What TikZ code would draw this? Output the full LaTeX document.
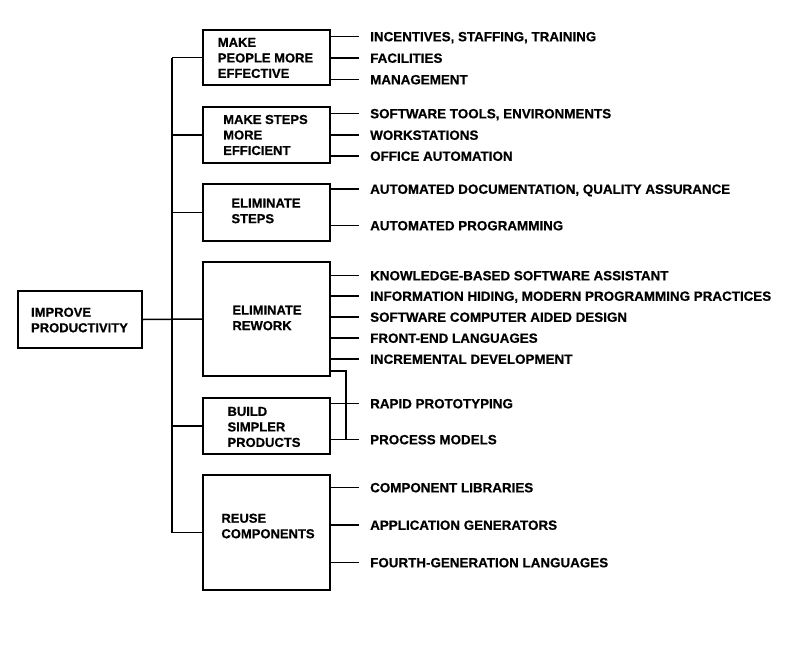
\documentclass[tikz,border=0pt]{standalone}
\usepackage{fontspec}
\setmainfont{Liberation Sans}[BoldFeatures={FakeBold=0.6}]
\begin{document}
\begin{tikzpicture}[x=1pt,y=-1pt,
  box/.style={draw, line width=2.2pt, rectangle, inner sep=0pt, minimum width=126.8pt},
  boxtext/.style={align=left, inner sep=0pt, font=\bfseries\fontsize{13}{15.5}\selectfont},
  item/.style={anchor=west, inner sep=0pt, text height=9.6pt, text depth=0pt, font=\bfseries\fontsize{13.4}{15}\selectfont},
  conn/.style={line width=1.5pt}]
\useasboundingbox[fill=white] (0,0) rectangle (785,646);

% boxes
\node[box, minimum height=54.8pt] (b1) at (266.5,57.5) {};
\node[box, minimum height=55.8pt] (b2) at (266.5,135) {};
\node[box, minimum height=56.8pt] (b3) at (266.5,212.5) {};
\node[box, minimum height=113.8pt] (b4) at (266.5,319) {};
\node[box, minimum height=55.8pt] (b5) at (266.5,426) {};
\node[box, minimum height=114.8pt] (b6) at (266.5,532.5) {};
\node[box, minimum width=123.8pt, minimum height=56.8pt] (imp) at (80,319.5) {};

% box texts
\node[boxtext] (l1) at (265.5,58) {MAKE\\PEOPLE MORE\\EFFECTIVE};
\node[boxtext] (l2) at (265.5,135) {MAKE STEPS\\MORE\\EFFICIENT};
\node[boxtext] (l3) at (266,211) {ELIMINATE\\STEPS};
\node[boxtext] (l4) at (267,318) {ELIMINATE\\REWORK};
\node[boxtext] (l5) at (264,427) {BUILD\\SIMPLER\\PRODUCTS};
\node[boxtext] (l6) at (268,526) {REUSE\\COMPONENTS};
\node[boxtext] (l0) at (79.5,320) {IMPROVE\\PRODUCTIVITY};

% items
\node[item] (i11) at (370,36.5) {INCENTIVES, STAFFING, TRAINING};
\node[item] (i12) at (370,58) {FACILITIES};
\node[item] (i13) at (370,79.5) {MANAGEMENT};
\node[item] (i21) at (370,113.5) {SOFTWARE TOOLS, ENVIRONMENTS};
\node[item] (i22) at (370,135) {WORKSTATIONS};
\node[item] (i23) at (370,156) {OFFICE AUTOMATION};
\node[item] (i31) at (370,189) {AUTOMATED DOCUMENTATION, QUALITY ASSURANCE};
\node[item] (i32) at (370,225.5) {AUTOMATED PROGRAMMING};
\node[item] (i41) at (370,275.5) {KNOWLEDGE-BASED SOFTWARE ASSISTANT};
\node[item] (i42) at (370,296) {INFORMATION HIDING, MODERN PROGRAMMING PRACTICES};
\node[item] (i43) at (370,317) {SOFTWARE COMPUTER AIDED DESIGN};
\node[item] (i44) at (370,338) {FRONT-END LANGUAGES};
\node[item] (i45) at (370,359) {INCREMENTAL DEVELOPMENT};
\node[item] (i51) at (370,403.5) {RAPID PROTOTYPING};
\node[item] (i52) at (370,439.5) {PROCESS MODELS};
\node[item] (i61) at (370,487.5) {COMPONENT LIBRARIES};
\node[item] (i62) at (370,525) {APPLICATION GENERATORS};
\node[item] (i63) at (370,562.5) {FOURTH-GENERATION LANGUAGES};

% stubs
\foreach \b/\i in {b1/i11,b1/i12,b1/i13,b2/i21,b2/i22,b2/i23,b3/i31,b3/i32,
                   b4/i41,b4/i42,b4/i43,b4/i44,b4/i45,b5/i51,b5/i52,b6/i61,b6/i62,b6/i63}
  \draw[conn] (\b.east |- \i.west) -- ([xshift=-11pt]\i.west);

% trunk
\coordinate (tx) at (172,0);
\draw[conn] (b1.west -| tx) -- (b6.west -| tx);
\foreach \b in {b1,b2,b3,b5,b6}
  \draw[conn] (\b.west) -- (\b.west -| tx);
\draw[conn] (imp.east) -- (b4.west);

% bracket
\coordinate (br) at (346,371);
\draw[conn] (b4.east |- br) -- (br) -- (br |- i52.west);
\end{tikzpicture}
\end{document}
